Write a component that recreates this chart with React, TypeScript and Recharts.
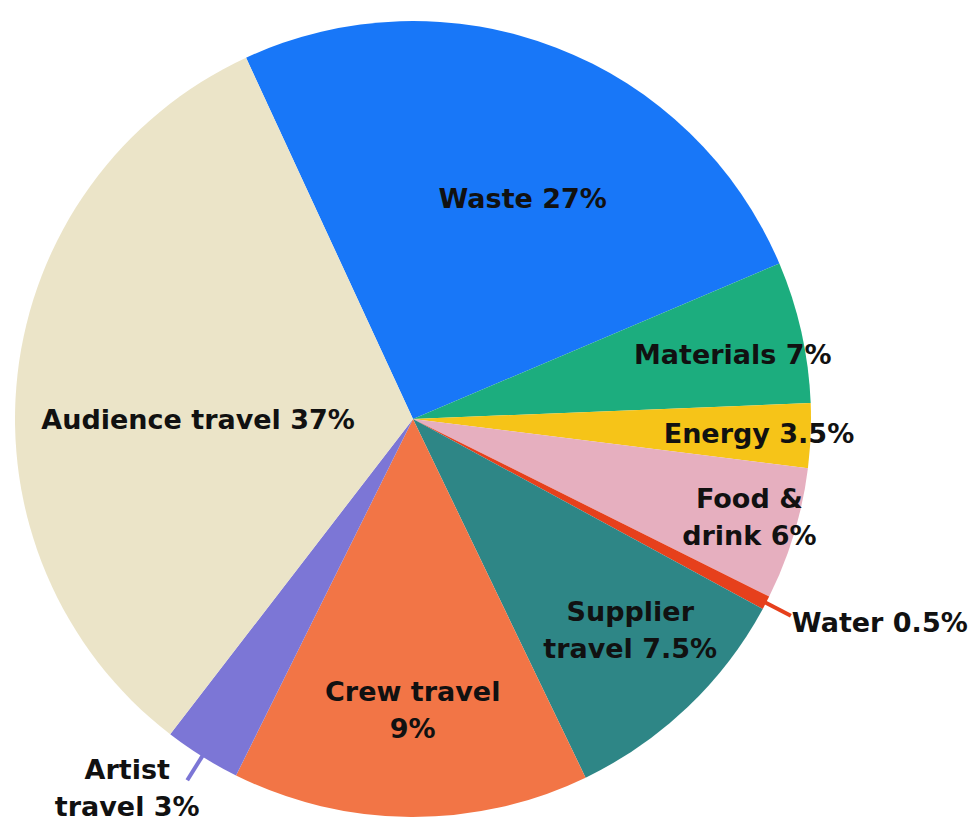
import { Pie, PieChart, Cell } from 'recharts';

// slice order runs clockwise from the Audience / Waste boundary
const categories = [
  'Waste',
  'Materials',
  'Energy',
  'Food & drink',
  'Water',
  'Supplier travel',
  'Crew travel',
  'Artist travel',
  'Audience travel'
];

// shares as drawn (degrees of the circle)
const shares = [91.8, 20.7, 9.4, 19.4, 2.0, 35.8, 52.1, 11.2, 117.6];

// label text as printed
const labelLines = [
  ['Waste 27%'],
  ['Materials 7%'],
  ['Energy 3.5%'],
  ['Food &', 'drink 6%'],
  ['Water 0.5%'],
  ['Supplier', 'travel 7.5%'],
  ['Crew travel', '9%'],
  ['Artist', 'travel 3%'],
  ['Audience travel 37%']
];

const colors = [
  '#1877f8',
  '#1cad7e',
  '#f6c418',
  '#e6afbf',
  '#e6401c',
  '#2e8686',
  '#f27546',
  '#7c76d6',
  '#ebe4c8'
];

const data = categories.map((name, i) => ({ name, value: shares[i] }));

// label placement: [angle shift, radius fraction, outside?]
const placement: [number, number, boolean][] = [
  [-5.3, 0.62, false],
  [-1.1, 0.82, false],
  [0, 0.87, false],
  [0.6, 0.88, false],
  [0, 1.0, true],
  [2.3, 0.76, false],
  [0.3, 0.73, false],
  [0, 1.0, true],
  [6.4, 0.54, false]
];

const RAD = Math.PI / 180;
const polar = (cx: number, cy: number, r: number, a: number) => ({
  x: cx + Math.cos(-a * RAD) * r,
  y: cy + Math.sin(-a * RAD) * r
});

const FONT = '"DejaVu Sans", sans-serif';
const LINE = 37;

function SliceLabel(props: any) {
  const { cx, cy, midAngle, outerRadius, index } = props;
  const lines = labelLines[index];
  const [shift, frac, outside] = placement[index];
  const textProps = {
    fontFamily: FONT,
    fontWeight: 700,
    fontSize: 27,
    fill: '#111'
  };
  if (outside) {
    const a = midAngle + shift;
    const p1 = polar(cx, cy, outerRadius - 4, a);
    const p2 = polar(cx, cy, outerRadius + 28, a);
    const right = Math.cos(a * RAD) > 0;
    const tx = right ? p2.x + 1 : p2.x - 60;
    const ty = right ? p2.y + 6 : p2.y + 7;
    return (
      <g>
        <line x1={p1.x} y1={p1.y} x2={p2.x} y2={p2.y} stroke={colors[index]} strokeWidth={4} />
        <text {...textProps} x={tx} y={ty} textAnchor={right ? 'start' : 'middle'} dominantBaseline="central">
          {lines.map((l, i) => (
            <tspan key={i} x={tx} dy={i === 0 ? -((lines.length - 1) * LINE) / 2 : LINE}>
              {l}
            </tspan>
          ))}
        </text>
      </g>
    );
  }
  const p = polar(cx, cy, outerRadius * frac, midAngle + shift);
  return (
    <text {...textProps} x={p.x} y={p.y} textAnchor="middle" dominantBaseline="central">
      {lines.map((l, i) => (
        <tspan key={i} x={p.x} dy={i === 0 ? -((lines.length - 1) * LINE) / 2 : LINE}>
          {l}
        </tspan>
      ))}
    </text>
  );
}

export default function App() {
  return (
    <div style={{ position: 'absolute', left: 0, top: 0, background: '#fff' }}>
      <PieChart width={979} height={823} margin={{ top: 0, right: 0, bottom: 0, left: 0 }}>
        <Pie
          data={data}
          dataKey="value"
          nameKey="name"
          cx={413}
          cy={419}
          outerRadius={398}
          startAngle={114.8}
          endAngle={114.8 - 360}
          stroke="none"
          labelLine={false}
          label={SliceLabel}
          isAnimationActive={false}
        >
          {data.map((d, i) => (
            <Cell key={d.name} fill={colors[i]} />
          ))}
        </Pie>
      </PieChart>
    </div>
  );
}
